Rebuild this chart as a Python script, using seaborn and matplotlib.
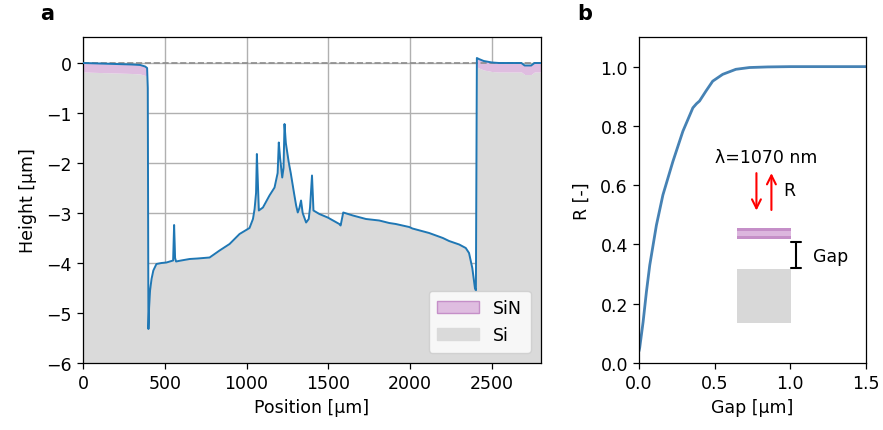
import numpy as np
import pandas as pd
import matplotlib
matplotlib.use("Agg")
import matplotlib.pyplot as plt
import seaborn as sns
from matplotlib.patches import Patch, Rectangle

# ---------------- data ----------------
# panel a: surface profile
pos_um = [0, 100, 200, 300, 350, 380, 392, 396, 400, 404, 410, 419, 430, 449, 480, 510, 551, 557, 563, 569,
          600, 652, 700, 774, 835, 896, 957, 1018, 1039, 1049, 1058, 1063, 1068, 1075, 1100, 1140, 1171,
          1190, 1197, 1205, 1218, 1226, 1232, 1240, 1258, 1270, 1290, 1303, 1313, 1323, 1333, 1343, 1364,
          1380, 1388, 1400, 1409, 1445, 1496, 1567, 1575, 1591, 1650, 1730, 1811, 1872, 1912, 1994, 2014,
          2116, 2200, 2238, 2300, 2340, 2360, 2380, 2396, 2402, 2408, 2420, 2450, 2500, 2543, 2600, 2680,
          2700, 2740, 2760, 2800]
height_um = [0.0, -0.01, -0.02, -0.03, -0.04, -0.07, -0.1, -0.5, -5.32, -4.9, -4.55, -4.32, -4.15, -4.02,
             -4.0, -3.99, -3.95, -3.24, -3.9, -3.97, -3.95, -3.92, -3.91, -3.89, -3.75, -3.62, -3.42,
             -3.3, -3.12, -2.92, -2.6, -1.82, -2.3, -2.95, -2.89, -2.65, -2.49, -2.2, -1.59, -1.9, -2.29,
             -2.1, -1.22, -1.6, -1.99, -2.2, -2.6, -2.85, -2.99, -2.9, -2.75, -3.0, -3.19, -3.12, -2.89,
             -2.25, -2.95, -3.02, -3.09, -3.22, -3.25, -2.99, -3.05, -3.12, -3.15, -3.2, -3.22, -3.28,
             -3.31, -3.4, -3.5, -3.56, -3.63, -3.7, -3.8, -4.1, -4.5, -4.55, 0.1, 0.08, 0.04, 0.01, 0.0,
             0.0, 0.0, -0.05, -0.05, 0.0, 0.0]
sin_thickness = 0.18
membrane_start, membrane_end = 396, 2404

# panel b: reflectance vs gap
gap_um = [0.0, 0.005, 0.027, 0.049, 0.071, 0.115, 0.158, 0.224, 0.29, 0.356, 0.38, 0.40, 0.443, 0.487,
          0.553, 0.64, 0.73, 0.85, 1.0, 1.2, 1.5]
refl = [0.04, 0.053, 0.138, 0.24, 0.33, 0.465, 0.567, 0.68, 0.782, 0.861, 0.875, 0.884, 0.918, 0.951,
        0.974, 0.991, 0.997, 0.999, 1.0, 1.0, 1.0]

legend_labels = ["SiN", "Si"]

# ---------------- style ----------------
sns.set_theme(style="ticks")
plt.rcParams["font.family"] = ["DejaVu Sans"]
fs = 12.5
plt.rcParams.update({
    "axes.edgecolor": "black",
    "axes.linewidth": 0.9,
    "xtick.color": "black",
    "ytick.color": "black",
    "xtick.major.size": 4.5,
    "ytick.major.size": 4.5,
    "xtick.major.width": 0.9,
    "ytick.major.width": 0.9,
    "axes.labelcolor": "black",
    "text.color": "black",
    "font.size": fs,
    "xtick.labelsize": fs,
    "ytick.labelsize": fs,
    "axes.labelsize": fs,
})

fig = plt.figure(figsize=(8.83, 4.31), dpi=100)
axa = fig.add_axes([83 / 883, 67 / 431, (541 - 83) / 883, (364 - 38) / 431])
axb = fig.add_axes([639 / 883, 67 / 431, (866 - 639) / 883, (364 - 38) / 431])

si_color = "#dadada"
sin_face = "#dfbde0"
sin_edge = "#c58fc8"

# ---------------- panel a ----------------
df = pd.DataFrame({"pos": pos_um, "h": height_um})
x = df["pos"].to_numpy(float)
h = df["h"].to_numpy(float)
outer = (x <= membrane_start) | (x >= membrane_end)
si_top = np.where(outer, h - sin_thickness, h)
axa.fill_between(x, -6, si_top, color=si_color, lw=0, zorder=1)
axa.fill_between(x, h - sin_thickness, h, where=outer & (x <= membrane_start), color=sin_face, lw=0, zorder=1)
axa.fill_between(x, h - sin_thickness, h, where=outer & (x >= membrane_end), color=sin_face, lw=0, zorder=1)
axa.axhline(0, color="#8c8c8c", ls="--", lw=1.2, zorder=2)
sns.lineplot(data=df, x="pos", y="h", ax=axa, color="#1f77b4", lw=1.4, sort=False, estimator=None, zorder=3)
axa.set_xlim(0, 2800)
axa.set_ylim(-6, 0.52)
axa.set_xticks([0, 500, 1000, 1500, 2000, 2500])
axa.set_yticks([-6, -5, -4, -3, -2, -1, 0])
axa.grid(True, color="#b0b0b0", lw=1.0, zorder=0)
axa.set_axisbelow(True)
axa.set_xlabel("Position [µm]", labelpad=4)
axa.set_ylabel("Height [µm]", labelpad=7)
handles = [Patch(facecolor=sin_face, edgecolor=sin_edge, label=legend_labels[0]),
           Patch(facecolor=si_color, edgecolor=si_color, label=legend_labels[1])]
axa.legend(handles=handles, loc="lower right", fontsize=fs, framealpha=0.8,
           borderaxespad=0.6, handlelength=2.4, borderpad=0.5)

# ---------------- panel b ----------------
dfb = pd.DataFrame({"gap": gap_um, "R": refl})
sns.lineplot(data=dfb, x="gap", y="R", ax=axb, color="#4682b4", lw=2.0, sort=False, estimator=None)
axb.set_xlim(0, 1.5)
axb.set_ylim(0, 1.1)
axb.set_xticks([0.0, 0.5, 1.0, 1.5])
axb.set_yticks([0.0, 0.2, 0.4, 0.6, 0.8, 1.0])
axb.set_xlabel("Gap [µm]", labelpad=4)
axb.set_ylabel("R [-]", labelpad=7)

# inset schematic
axb.add_patch(Rectangle((0.645, 0.136), 0.36, 0.18, facecolor="#d6d6d6", edgecolor="none", alpha=0.95))
axb.add_patch(Rectangle((0.645, 0.418), 0.36, 0.039, facecolor=sin_edge, edgecolor="none"))
axb.add_patch(Rectangle((0.645, 0.430), 0.36, 0.015, facecolor="#dcb6de", edgecolor="none"))
axb.plot([1.04, 1.04], [0.319, 0.409], color="black", lw=1.5)
axb.plot([1.007, 1.073], [0.409, 0.409], color="black", lw=1.5)
axb.plot([1.007, 1.073], [0.319, 0.319], color="black", lw=1.5)
axb.text(1.15, 0.36, "Gap", va="center", ha="left", fontsize=fs)
axb.annotate("", xy=(0.776, 0.505), xytext=(0.776, 0.65),
             arrowprops=dict(arrowstyle="->", color="red", lw=1.5, mutation_scale=16))
axb.annotate("", xy=(0.875, 0.65), xytext=(0.875, 0.507),
             arrowprops=dict(arrowstyle="->", color="red", lw=1.5, mutation_scale=16))
axb.text(0.95, 0.584, "R", va="center", ha="left", fontsize=fs)
axb.text(0.842, 0.695, "λ=1070 nm", va="center", ha="center", fontsize=fs)

fig.text(40 / 883, 1 - 14 / 431, "a", fontsize=15, fontweight="bold", ha="left", va="center")
fig.text(577 / 883, 1 - 14 / 431, "b", fontsize=15, fontweight="bold", ha="left", va="center")

fig.savefig("out.png", dpi=100)
